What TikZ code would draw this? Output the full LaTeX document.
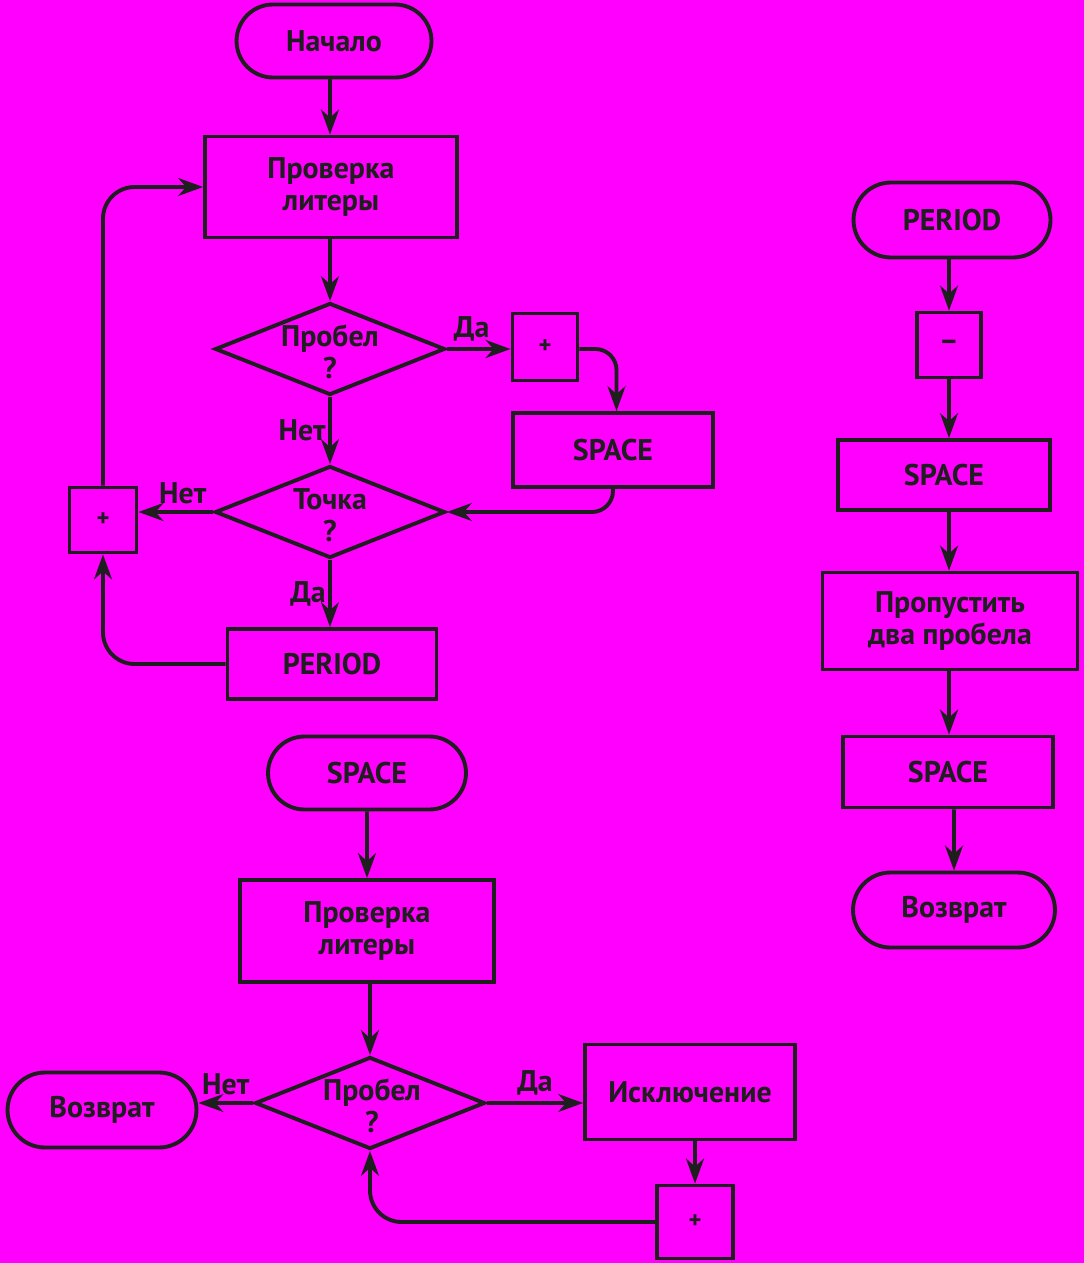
\documentclass[tikz,border=0pt]{standalone}
\usepackage{fontspec}
\setmainfont{PT Sans}
\usetikzlibrary{shapes,arrows}
\usetikzlibrary{arrows.meta}
\definecolor{bg}{RGB}{255,0,255}
\definecolor{ink}{RGB}{30,30,30}
\tikzstyle{block} = [rectangle, draw=ink, line width=2.2pt, text=ink, align=center,
    inner sep=0pt, font=\fontsize{17}{18}\selectfont\bfseries]
\tikzstyle{term} = [rounded rectangle, draw=ink, line width=2.2pt, text=ink,
    inner sep=0pt, font=\fontsize{17}{18}\selectfont\bfseries]
\tikzstyle{decision} = [diamond, draw=ink, line width=2.2pt, inner sep=0pt,
    minimum width=4.6cm, minimum height=1.84cm]
\tikzstyle{inner} = [text=ink, align=center, font=\fontsize{17}{18}\selectfont\bfseries]
\tikzstyle{tag} = [text=ink, font=\fontsize{17}{18}\selectfont\bfseries]
\tikzstyle{line} = [draw=ink, line width=2.2pt, -{Stealth[length=5mm, width=3.6mm]}]

\begin{document}
\begin{tikzpicture}[x=0.02cm, y=-0.02cm]
      \fill[bg] (0,0) rectangle (1084,1263);
      % left chart
      \node [term, minimum width=3.9cm, minimum height=1.46cm] (start) at (334, 41) {Начало};
      \node [block, minimum width=5.04cm, minimum height=2.02cm] (chk1) at (331, 187) {Проверка\\литеры};
      \node [decision] (d1) at (330, 349) {};
      \node [inner] (d1t) at (330, 352) {Пробел\\?};
      \node [block, minimum width=1.3cm, minimum height=1.34cm, font=\fontsize{14}{14}\selectfont\bfseries] (inc1) at (545, 347) {+};
      \node [block, minimum width=4cm, minimum height=1.48cm] (sp1) at (613, 450) {SPACE};
      \node [decision] (d2) at (330, 512) {};
      \node [inner] (d2t) at (330, 515) {Точка\\?};
      \node [block, minimum width=1.34cm, minimum height=1.3cm, font=\fontsize{14}{14}\selectfont\bfseries] (inc2) at (103, 520) {+};
      \node [block, minimum width=4.18cm, minimum height=1.4cm] (per1) at (332, 664) {PERIOD};
      \path [line] (start.south -| d1) -- (chk1.north -| d1);
      \path [line] (chk1.south -| d1) -- (d1);
      \path [line] (d1) -- node[tag, above, xshift=-4] {Да} (inc1.west |- d1);
      \path [line, rounded corners=12] (inc1.east |- d1) -| ([xshift=2]sp1.north);
      \path [line] (d1) -- node[tag, left, xshift=2] {Нет} (d2);
      \path [line, rounded corners=12] (sp1.south) |- (d2.east);
      \path [line] (d2) -- node[tag, above, xshift=4] {Нет} (inc2.east |- d2);
      \path [line] (d2) -- node[tag, left, xshift=2] {Да} (per1.north -| d2);
      \path [line, rounded corners=18] (per1.west) -| (inc2.south);
      \path [line, rounded corners=18] (inc2.north) |- (chk1.west);
      % bottom chart
      \node [term, minimum width=3.96cm, minimum height=1.46cm] (start2) at (367, 773) {SPACE};
      \node [block, minimum width=5.08cm, minimum height=2.04cm] (chk2) at (367, 931) {Проверка\\литеры};
      \node [decision] (d3) at (370, 1103) {};
      \node [inner] (d3t) at (372, 1106) {Пробел\\?};
      \node [term, minimum width=3.78cm, minimum height=1.5cm] (ret1) at (102, 1110) {Возврат};
      \node [block, minimum width=4.2cm, minimum height=1.9cm] (exc) at (690, 1092) {Исключение};
      \node [block, minimum width=1.52cm, minimum height=1.46cm, font=\fontsize{14}{14}\selectfont\bfseries] (inc3) at (695, 1222) {+};
      \path [line] (start2) -- (chk2);
      \path [line] (chk2.south -| d3) -- (d3);
      \path [line] (d3) -- node[tag, above] {Нет} (ret1.east |- d3);
      \path [line] (d3) -- node[tag, above] {Да} (exc.west |- d3);
      \path [line] (exc.south -| inc3) -- (inc3);
      \path [line, rounded corners=18] (inc3.west) -| (d3.south);
      % right chart
      \node [term, minimum width=3.94cm, minimum height=1.5cm] (start3) at (952, 220) {PERIOD};
      \node [block, minimum width=1.28cm, minimum height=1.3cm] (dec) at (949, 345) {–};
      \node [block, minimum width=4.24cm, minimum height=1.4cm] (sp2) at (944, 475) {SPACE};
      \node [block, minimum width=5.1cm, minimum height=1.94cm] (skip) at (950, 621) {Пропустить\\два пробела};
      \node [block, minimum width=4.2cm, minimum height=1.42cm] (sp3) at (948, 772) {SPACE};
      \node [term, minimum width=4.04cm, minimum height=1.5cm] (ret2) at (954, 910) {Возврат};
      \path [line] (start3.south -| dec) -- (dec);
      \path [line] (dec) -- (dec |- sp2.north);
      \path [line] (sp2.south -| dec) -- (dec |- skip.north);
      \path [line] (skip.south -| dec) -- (dec |- sp3.north);
      \path [line] (sp3.south -| ret2) -- (ret2);
  \end{tikzpicture}
\end{document}
